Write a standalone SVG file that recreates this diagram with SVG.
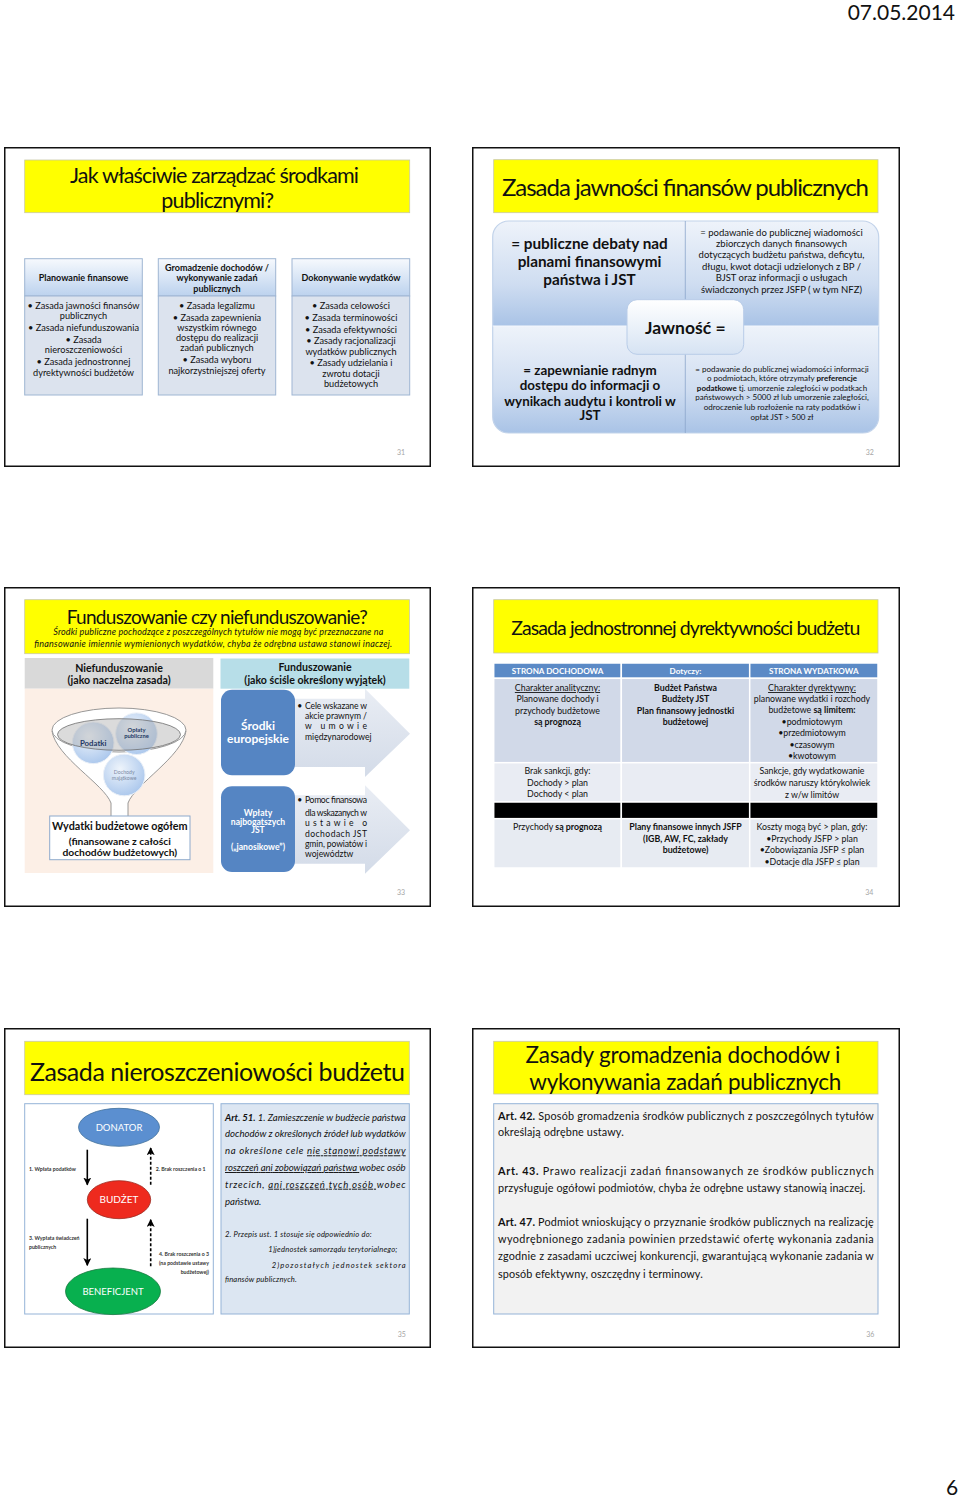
<svg xmlns="http://www.w3.org/2000/svg" width="960" height="1498" viewBox="0 0 960 1498">
<style>
text{font-family:Lato,"Liberation Sans",sans-serif;fill:#111}
.slide{fill:#fff;stroke:#111;stroke-width:1.5}
.ttl{fill:#ffff00;stroke:#c9c9a8;stroke-width:0.8}
.pg{font-size:7px;fill:#a6a6a6;text-anchor:middle}
.c{text-anchor:middle}
.e{text-anchor:end}
.b{font-weight:bold}
.i{font-style:italic}
.u{text-decoration:underline}
.hd{fill:url(#hdr);stroke:#9fb6d3;stroke-width:1}
.bd{fill:#dce3ee;stroke:#9fb6d3;stroke-width:1}
.f9{font-size:9.2px}
.tb{font-size:8.8px}
.wh{fill:#fff}
.cell{stroke:#fff;stroke-width:1.5}
.lbl{font-size:5.2px;font-weight:bold;fill:#333}
</style>
<defs>
<linearGradient id="hdr" x1="0" y1="0" x2="0" y2="1"><stop offset="0" stop-color="#f6f9fd"/><stop offset="1" stop-color="#bcd2ee"/></linearGradient>
<linearGradient id="q" x1="0" y1="0" x2="0" y2="1"><stop offset="0" stop-color="#eef3fa"/><stop offset="0.6" stop-color="#cfddf1"/><stop offset="1" stop-color="#a9c3e6"/></linearGradient>
<linearGradient id="cb" x1="0" y1="0" x2="0" y2="1"><stop offset="0" stop-color="#ffffff"/><stop offset="1" stop-color="#d6e3f3"/></linearGradient>
<linearGradient id="arr" x1="0" y1="0" x2="0" y2="1"><stop offset="0" stop-color="#e9edf4"/><stop offset="1" stop-color="#d3dbe8"/></linearGradient>
<radialGradient id="ball" cx="0.4" cy="0.35" r="0.7"><stop offset="0" stop-color="#eef4fb"/><stop offset="1" stop-color="#a9c6ec"/></radialGradient>
<clipPath id="clip32"><rect x="492.7" y="221" width="386" height="212" rx="16"/></clipPath>
<marker id="ah" viewBox="0 0 10 10" refX="9" refY="5" markerWidth="5" markerHeight="5" orient="auto"><path d="M0,0 L10,5 L0,10 L2.5,5 z" fill="#000"/></marker>
</defs>

<rect x="0" y="0" width="960" height="1498" fill="#fff"/>
<text id="date" class="e" x="955" y="20" font-size="21">07.05.2014</text>
<text id="pagenum" class="c" x="952" y="1495" font-size="21">6</text>

<!-- Slide 31 -->
<g id="slide31">
<rect class="slide" x="4.75" y="147.75" width="425.5" height="318.5"/>
<rect class="ttl" x="24.7" y="160" width="385" height="52.7"/>
<text class="c" x="214.5" y="182.5" font-size="21.5" textLength="289">Jak właściwie zarządzać środkami</text>
<text class="c" x="217.7" y="207.5" font-size="21.5" textLength="112.7">publicznymi?</text>
<g id="col1">
<rect class="hd" x="24.7" y="258.7" width="117.6" height="37.3"/>
<rect class="bd" x="24.7" y="296" width="117.6" height="99"/>
<text class="c b" x="83.5" y="280.8" font-size="9">Planowanie finansowe</text>
<text class="c f9" x="83.5" y="309">• Zasada jawności finansów</text>
<text class="c f9" x="83.5" y="319.3">publicznych</text>
<text class="c f9" x="83.5" y="331">• Zasada niefunduszowania</text>
<text class="c f9" x="83.5" y="342.5">• Zasada</text>
<text class="c f9" x="83.5" y="352.5">nieroszczeniowości</text>
<text class="c f9" x="83.5" y="365.2">• Zasada jednostronnej</text>
<text class="c f9" x="83.5" y="375.5">dyrektywności budżetów</text>
</g>
<g id="col2">
<rect class="hd" x="158.3" y="258.7" width="117.4" height="37.3"/>
<rect class="bd" x="158.3" y="296" width="117.4" height="99"/>
<text class="c b" x="217" y="270.8" font-size="9">Gromadzenie dochodów  /</text>
<text class="c b" x="217" y="281.2" font-size="9">wykonywanie zadań</text>
<text class="c b" x="217" y="291.6" font-size="9">publicznych</text>
<text class="c f9" x="217" y="309">• Zasada legalizmu</text>
<text class="c f9" x="217" y="320.5">• Zasada zapewnienia</text>
<text class="c f9" x="217" y="331">wszystkim równego</text>
<text class="c f9" x="217" y="341.2">dostępu do realizacji</text>
<text class="c f9" x="217" y="351.2">zadań publicznych</text>
<text class="c f9" x="217" y="363.2">• Zasada wyboru</text>
<text class="c f9" x="217" y="373.5">najkorzystniejszej oferty</text>
</g>
<g id="col3">
<rect class="hd" x="292" y="258.7" width="117.7" height="37.3"/>
<rect class="bd" x="292" y="296" width="117.7" height="99"/>
<text class="c b" x="351" y="280.8" font-size="9">Dokonywanie wydatków</text>
<text class="c f9" x="351" y="309">• Zasada celowości</text>
<text class="c f9" x="351" y="320.5">• Zasada terminowości</text>
<text class="c f9" x="351" y="332.5">• Zasada efektywności</text>
<text class="c f9" x="351" y="344.2">• Zasady racjonalizacji</text>
<text class="c f9" x="351" y="354.5">wydatków publicznych</text>
<text class="c f9" x="351" y="366.2">• Zasady udzielania i</text>
<text class="c f9" x="351" y="377">zwrotu dotacji</text>
<text class="c f9" x="351" y="387.2">budżetowych</text>
</g>
<text class="pg" x="401" y="454.5">31</text>
</g>

<!-- Slide 32 -->
<g id="slide32">
<rect class="slide" x="472.75" y="147.75" width="426.5" height="318.5"/>
<rect class="ttl" x="493.7" y="159.7" width="384.3" height="53"/>
<text x="502" y="195.5" font-size="24" textLength="367">Zasada jawności finansów publicznych</text>
<g clip-path="url(#clip32)">
<rect x="492.7" y="221" width="386" height="105" fill="url(#q)"/>
<rect x="492.7" y="326" width="386" height="107" fill="url(#q)"/>
</g>
<rect x="492.7" y="221" width="386" height="212" rx="16" fill="none" stroke="#c2d3ea" stroke-width="1.2"/>
<line x1="685.3" y1="221" x2="685.3" y2="433" stroke="#8aa6cc" stroke-width="0.8"/>
<line x1="492.7" y1="326" x2="878.7" y2="326" stroke="#f4f8fd" stroke-width="1"/>
<g id="q-tl">
<text class="c b" x="589.5" y="249" font-size="15.3">= publiczne debaty nad</text>
<text class="c b" x="589.5" y="267" font-size="15.3">planami finansowymi</text>
<text class="c b" x="589.5" y="285" font-size="15.3">państwa i JST</text>
</g>
<g id="q-tr">
<text class="c" x="781.5" y="236" font-size="9.5">= podawanie do publicznej wiadomości</text>
<text class="c" x="781.5" y="247.2" font-size="9.5">zbiorczych danych finansowych</text>
<text class="c" x="781.5" y="258.3" font-size="9.5">dotyczących budżetu państwa, deficytu,</text>
<text class="c" x="781.5" y="269.7" font-size="9.5">długu, kwot dotacji udzielonych z BP /</text>
<text class="c" x="781.5" y="281.2" font-size="9.5">BJST oraz informacji o usługach</text>
<text class="c" x="781.5" y="292.8" font-size="9.5">świadczonych przez JSFP  ( w tym NFZ)</text>
</g>
<g id="q-bl">
<text class="c b" x="590" y="375" font-size="13.4">= zapewnianie radnym</text>
<text class="c b" x="590" y="390.2" font-size="13.4">dostępu do informacji o</text>
<text class="c b" x="590" y="405.5" font-size="13.4">wynikach audytu i kontroli w</text>
<text class="c b" x="590" y="420.2" font-size="13.4">JST</text>
</g>
<g id="q-br">
<text class="c" x="782" y="371.7" font-size="8">= podawanie do publicznej wiadomości informacji</text>
<text class="c" x="782" y="381.4" font-size="8">o podmiotach, które otrzymały <tspan class="b">preferencje</tspan></text>
<text class="c" x="782" y="390.7" font-size="8"><tspan class="b">podatkowe</tspan> tj. umorzenie zaległości w podatkach</text>
<text class="c" x="782" y="400" font-size="8">państwowych &gt; 5000 zł lub umorzenie zaległości,</text>
<text class="c" x="782" y="409.7" font-size="8">odroczenie lub rozłożenie na raty podatków i</text>
<text class="c" x="782" y="419.7" font-size="8">opłat JST &gt; 500 zł</text>
</g>
<g id="jawnosc">
<rect x="627" y="299.7" width="116.7" height="54.6" rx="10" fill="url(#cb)" stroke="#b8cce8" stroke-width="1"/>
<text class="c b" x="685.3" y="333.8" font-size="17.5">Jawność =</text>
</g>
<text class="pg" x="869.7" y="454.5">32</text>
</g>

<!-- Slide 33 -->
<g id="slide33">
<rect class="slide" x="4.75" y="587.75" width="425.5" height="318.5"/>
<rect class="ttl" x="24.7" y="599.7" width="384.7" height="54"/>
<text class="c" x="217.2" y="623.5" font-size="19" textLength="301">Funduszowanie czy niefunduszowanie?</text>
<text class="c i" x="218.3" y="635" font-size="9" textLength="330">Środki publiczne pochodzące z poszczególnych tytułów nie mogą być przeznaczane na</text>
<text class="c i" x="213.2" y="647.3" font-size="9" textLength="358">finansowanie imiennie wymienionych wydatków, chyba że odrębna ustawa stanowi inaczej.</text>
<g id="niefund">
<rect x="24.7" y="658" width="188.6" height="30.7" fill="#d9d9d9"/>
<rect x="24.7" y="688.7" width="188.6" height="184.3" fill="#fcefe6"/>
<text class="c b" x="119" y="671.5" font-size="10.6">Niefunduszowanie</text>
<text class="c b" x="119" y="684.2" font-size="10.6">(jako naczelna zasada)</text>
<path d="M52,731 C56,757 104,784 111,803 L111,817 L128,817 L128,803 C135,784 182,757 186,731 Z" fill="#fff" stroke="#8c8c8c" stroke-width="0.9"/>
<ellipse cx="119" cy="730" rx="67" ry="22" fill="#fff" stroke="#8c8c8c" stroke-width="0.9"/>
<circle cx="93.2" cy="742.8" r="20.8" fill="url(#ball)" stroke="#eaf0f8" stroke-width="1"/>
<circle cx="136.5" cy="733.7" r="20.8" fill="url(#ball)" stroke="#eaf0f8" stroke-width="1"/>
<circle cx="124.2" cy="775" r="20.8" fill="url(#ball)" stroke="#eaf0f8" stroke-width="1"/>
<ellipse cx="119" cy="734.5" rx="61.5" ry="15.8" fill="#b0b0b0" fill-opacity="0.45" stroke="#6f6f6f" stroke-width="0.8"/>
<text class="c b" x="93.2" y="745.5" font-size="7.8" style="fill:#1f3864">Podatki</text>
<text class="c b" x="136.5" y="731.5" font-size="5.8" style="fill:#1f3864">Opłaty</text>
<text class="c b" x="136.5" y="738.2" font-size="5.8" style="fill:#1f3864">publiczne</text>
<text class="c" x="124.2" y="773.8" font-size="5.2" style="fill:#7b8aa3">Dochody</text>
<text class="c" x="124.2" y="779.8" font-size="5.2" style="fill:#7b8aa3">majątkowe</text>
<rect x="49.7" y="816" width="140.3" height="43.7" fill="#fff" stroke="#8eaacc" stroke-width="1"/>
<text class="c b" x="119.8" y="830" font-size="10.8">Wydatki budżetowe ogółem</text>
<text class="c b" x="119.8" y="844.5" font-size="10.3">(finansowane z całości</text>
<text class="c b" x="119.8" y="856.2" font-size="10.3">dochodów budżetowych)</text>
</g>
<g id="fund">
<rect x="220.5" y="658.5" width="188.8" height="30.2" fill="#b7dee8"/>
<text class="c b" x="315" y="671.3" font-size="10.6">Funduszowanie</text>
<text class="c b" x="315" y="684.2" font-size="10.6">(jako ściśle określony wyjątek)</text>
<path d="M258,698.7 L365,698.7 L365,688.7 L410,733.7 L365,777 L365,767 L258,767 Z" fill="url(#arr)"/>
<path d="M258,795.3 L365,795.3 L365,785.3 L410,830.3 L365,873.7 L365,863.7 L258,863.7 Z" fill="url(#arr)"/>
<rect x="221" y="689.7" width="74" height="85.6" rx="11" fill="#5585c3"/>
<text class="c b wh" x="258" y="730.3" font-size="12">Środki</text>
<text class="c b wh" x="258" y="743.3" font-size="12">europejskie</text>
<rect x="221" y="786.3" width="74" height="85.7" rx="11" fill="#5585c3"/>
<text class="c b wh" x="258" y="816" font-size="8.6">Wpłaty</text>
<text class="c b wh" x="258" y="825.2" font-size="8.6">najbogatszych</text>
<text class="c b wh" x="258" y="833.4" font-size="8.6">JST</text>
<text class="c b wh" x="258" y="850.2" font-size="8.6">(„janosikowe”)</text>
<text x="297.2" y="709" font-size="8.6">•</text>
<text x="305" y="709" font-size="8.6" textLength="62">Cele wskazane w</text>
<text x="305" y="719.3" font-size="8.6" textLength="62">akcie prawnym /</text>
<text x="305" y="728.7" font-size="8.6" textLength="62">w umowie</text>
<text x="305" y="740" font-size="8.6">międzynarodowej</text>
<text x="297.2" y="802.7" font-size="8.6">•</text>
<text x="305" y="802.7" font-size="8.6" textLength="62">Pomoc finansowa</text>
<text x="305" y="815.7" font-size="8.6" textLength="62">dla wskazanych w</text>
<text x="305" y="826.3" font-size="8.6" textLength="62">ustawie o</text>
<text x="305" y="836.7" font-size="8.6" textLength="62">dochodach JST</text>
<text x="305" y="847.3" font-size="8.6" textLength="62">gmin, powiatów i</text>
<text x="305" y="856.7" font-size="8.6">województw</text>
</g>
<text class="pg" x="401" y="894.5">33</text>
</g>

<!-- Slide 34 -->
<g id="slide34">
<rect class="slide" x="472.75" y="587.75" width="426.5" height="318.5"/>
<rect class="ttl" x="493.7" y="599.7" width="384.3" height="53.3"/>
<text x="511.3" y="634.7" font-size="19.5" textLength="349">Zasada jednostronnej dyrektywności budżetu</text>
<g id="table34">
<rect class="cell" x="493.7" y="663" width="127.6" height="15.3" fill="#5b8ac6"/>
<rect class="cell" x="621.3" y="663" width="128.4" height="15.3" fill="#5b8ac6"/>
<rect class="cell" x="749.7" y="663" width="128.3" height="15.3" fill="#5b8ac6"/>
<rect class="cell" x="493.7" y="678.3" width="127.6" height="84.4" fill="#d1d9e8"/>
<rect class="cell" x="621.3" y="678.3" width="128.4" height="84.4" fill="#d1d9e8"/>
<rect class="cell" x="749.7" y="678.3" width="128.3" height="84.4" fill="#d1d9e8"/>
<rect class="cell" x="493.7" y="762.7" width="127.6" height="39.3" fill="#e9ecf3"/>
<rect class="cell" x="621.3" y="762.7" width="128.4" height="39.3" fill="#e9ecf3"/>
<rect class="cell" x="749.7" y="762.7" width="128.3" height="39.3" fill="#e9ecf3"/>
<rect class="cell" x="493.7" y="802" width="127.6" height="16.7" fill="#000"/>
<rect class="cell" x="621.3" y="802" width="128.4" height="16.7" fill="#000"/>
<rect class="cell" x="749.7" y="802" width="128.3" height="16.7" fill="#000"/>
<rect class="cell" x="493.7" y="818.7" width="127.6" height="49.3" fill="#e7ebf2"/>
<rect class="cell" x="621.3" y="818.7" width="128.4" height="49.3" fill="#e7ebf2"/>
<rect class="cell" x="749.7" y="818.7" width="128.3" height="49.3" fill="#e7ebf2"/>
<text class="c b wh" x="557.5" y="673.7" font-size="8.1">STRONA DOCHODOWA</text>
<text class="c b wh" x="685.5" y="673.7" font-size="8.1">Dotyczy:</text>
<text class="c b wh" x="813.8" y="673.7" font-size="8.1">STRONA WYDATKOWA</text>
<text class="c tb u" x="557.5" y="691">Charakter analityczny:</text>
<text class="c tb" x="557.5" y="702.3">Planowane dochody i</text>
<text class="c tb" x="557.5" y="713.7">przychody budżetowe</text>
<text class="c tb b" x="557.5" y="725.3">są prognozą</text>
<text class="c tb b" x="685.5" y="691">Budżet Państwa</text>
<text class="c tb b" x="685.5" y="702.3">Budżety JST</text>
<text class="c tb b" x="685.5" y="713.7">Plan finansowy jednostki</text>
<text class="c tb b" x="685.5" y="725.3">budżetowej</text>
<text class="c tb u" x="812" y="691">Charakter dyrektywny:</text>
<text class="c tb" x="812" y="702.3">planowane wydatki i rozchody</text>
<text class="c tb" x="812" y="713.3">budżetowe <tspan class="b">są limitem:</tspan></text>
<text class="c tb" x="812" y="725">•podmiotowym</text>
<text class="c tb" x="812" y="736">•przedmiotowym</text>
<text class="c tb" x="812" y="748">•czasowym</text>
<text class="c tb" x="812" y="759.3">•kwotowym</text>
<text class="c tb" x="557.5" y="774">Brak sankcji, gdy:</text>
<text class="c tb" x="557.5" y="786">Dochody &gt; plan</text>
<text class="c tb" x="557.5" y="797.3">Dochody &lt; plan</text>
<text class="c tb" x="812" y="774.3">Sankcje, gdy wydatkowanie</text>
<text class="c tb" x="812" y="786.3">środków naruszy którykolwiek</text>
<text class="c tb" x="812" y="797.7">z w/w limitów</text>
<text class="c tb" x="557.5" y="830">Przychody <tspan class="b">są prognozą</tspan></text>
<text class="c tb b" x="685.5" y="830">Plany finansowe innych JSFP</text>
<text class="c tb b" x="685.5" y="841.7">(IGB, AW, FC, zakłady</text>
<text class="c tb b" x="685.5" y="853.3">budżetowe)</text>
<text class="c tb" x="812" y="830">Koszty mogą być &gt; plan, gdy:</text>
<text class="c tb" x="812" y="841.7">•Przychody JSFP &gt; plan</text>
<text class="c tb" x="812" y="853">•Zobowiązania JSFP ≤ plan</text>
<text class="c tb" x="812" y="864.7">•Dotacje dla JSFP  ≤ plan</text>
</g>
<text class="pg" x="869.3" y="894.5">34</text>
</g>

<!-- Slide 35 -->
<g id="slide35">
<rect class="slide" x="4.75" y="1028.75" width="425.5" height="318.5"/>
<rect class="ttl" x="24.7" y="1041.3" width="384.6" height="53.4"/>
<text x="30" y="1080.5" font-size="25" textLength="375">Zasada nieroszczeniowości budżetu</text>
<rect x="24.7" y="1103.7" width="188.6" height="210.3" fill="#fff" stroke="#95b3d7" stroke-width="1"/>
<g id="donator">
<ellipse cx="119" cy="1127.3" rx="40.5" ry="19" fill="#5b8fd0" stroke="#41719c" stroke-width="0.8"/>
<text class="c wh" x="119" y="1130.6" font-size="9.5">DONATOR</text>
</g>
<g id="budzet">
<ellipse cx="119" cy="1199.7" rx="31.7" ry="19" fill="#ee2a1e" stroke="#9c2a20" stroke-width="0.8"/>
<text class="c wh" x="119" y="1203.2" font-size="10">BUDŻET</text>
</g>
<g id="beneficjent">
<ellipse cx="113" cy="1291.3" rx="47.5" ry="23.3" fill="#08b04f" stroke="#177a3f" stroke-width="0.8"/>
<text class="c wh" x="113" y="1294.6" font-size="9.5">BENEFICJENT</text>
</g>
<g id="connectors">
<line x1="87.3" y1="1149.7" x2="87.3" y2="1184.7" stroke="#000" stroke-width="1.6" marker-end="url(#ah)"/>
<line x1="87.3" y1="1218.7" x2="87.3" y2="1265.3" stroke="#000" stroke-width="1.6" marker-end="url(#ah)"/>
<line x1="150.7" y1="1184.7" x2="150.7" y2="1148" stroke="#000" stroke-width="1.6" stroke-dasharray="3,2" marker-end="url(#ah)"/>
<line x1="150.7" y1="1266.3" x2="150.7" y2="1219.7" stroke="#000" stroke-width="1.6" stroke-dasharray="3,2" marker-end="url(#ah)"/>
<text class="lbl" x="29" y="1171">1. Wpłata podatków</text>
<text class="lbl" x="155.7" y="1171">2. Brak roszczenia o 1</text>
<text class="lbl" x="29" y="1240">3. Wypłata świadczeń</text>
<text class="lbl" x="29" y="1248.5">publicznych</text>
<text class="lbl e" x="209" y="1256">4. Brak roszczenia o 3</text>
<text class="lbl e" x="209" y="1265.3">(na podstawie ustawy</text>
<text class="lbl e" x="209" y="1273.8">budżetowej)</text>
</g>
<g id="art51">
<rect x="221" y="1103.7" width="188.3" height="210.3" fill="#dce6f2" stroke="#95b3d7" stroke-width="1"/>
<text class="i" x="225" y="1121" font-size="9.6" textLength="180.7"><tspan class="b">Art. 51.</tspan> 1. Zamieszczenie w budżecie państwa</text>
<text class="i" x="225" y="1136.7" font-size="9.6" textLength="180.7">dochodów z określonych źródeł lub wydatków</text>
<text class="i" x="225" y="1154.3" font-size="9.6" textLength="180.7">na określone cele <tspan class="u">nie stanowi podstawy</tspan></text>
<text class="i" x="225" y="1171" font-size="9.6" textLength="180.7"><tspan class="u">roszczeń ani zobowiązań państwa </tspan>wobec osób</text>
<text class="i" x="225" y="1187.7" font-size="9.6" textLength="180.7">trzecich, <tspan class="u">ani roszczeń tych osób </tspan>wobec</text>
<text class="i" x="225" y="1205" font-size="9.6">państwa.</text>
<text class="i" x="225" y="1236.5" font-size="7.6" textLength="146.7">2. Przepis ust. 1 stosuje się odpowiednio do:</text>
<text class="i" x="268.3" y="1252" font-size="7.6" textLength="129">1)jednostek samorządu terytorialnego;</text>
<text class="i" x="271.7" y="1267.6" font-size="7.6" textLength="134">2)pozostałych jednostek sektora</text>
<text class="i" x="225" y="1282" font-size="7.6" textLength="71.7">finansów publicznych.</text>
</g>
<text class="pg" x="401.7" y="1336.5">35</text>
</g>

<!-- Slide 36 -->
<g id="slide36">
<rect class="slide" x="472.75" y="1028.75" width="426.5" height="318.5"/>
<rect class="ttl" x="493.7" y="1041.3" width="384.3" height="52.7"/>
<text class="c" x="683" y="1063" font-size="22.5" textLength="315">Zasady gromadzenia dochodów i</text>
<text class="c" x="685.3" y="1090" font-size="22.5" textLength="312">wykonywania zadań publicznych</text>
<g id="arts">
<rect x="493.7" y="1103.7" width="384.3" height="210.3" fill="#f2f2f2" stroke="#95b3d7" stroke-width="1"/>
<text x="498" y="1119.9" font-size="10.8" textLength="375.7"><tspan class="b">Art. 42.</tspan> Sposób gromadzenia środków publicznych z poszczególnych tytułów</text>
<text x="498" y="1135.9" font-size="10.8" textLength="125.7">określają odrębne ustawy.</text>
<text x="498" y="1174.9" font-size="10.8" textLength="375.7"><tspan class="b">Art. 43.</tspan> Prawo realizacji zadań finansowanych ze środków publicznych</text>
<text x="498" y="1192.3" font-size="10.8" textLength="367.3">przysługuje ogółowi podmiotów, chyba że odrębne ustawy stanowią inaczej.</text>
<text x="498" y="1225.9" font-size="10.8" textLength="375.7"><tspan class="b">Art. 47.</tspan> Podmiot wnioskujący o przyznanie środków publicznych na realizację</text>
<text x="498" y="1243.3" font-size="10.8" textLength="375.7">wyodrębnionego zadania powinien przedstawić ofertę wykonania zadania</text>
<text x="498" y="1260.3" font-size="10.8" textLength="375.7">zgodnie z zasadami uczciwej konkurencji, gwarantującą wykonanie zadania w</text>
<text x="498" y="1277.6" font-size="10.8" textLength="204.7">sposób efektywny, oszczędny i terminowy.</text>
</g>
<text class="pg" x="870.3" y="1336.5">36</text>
</g>
</svg>
